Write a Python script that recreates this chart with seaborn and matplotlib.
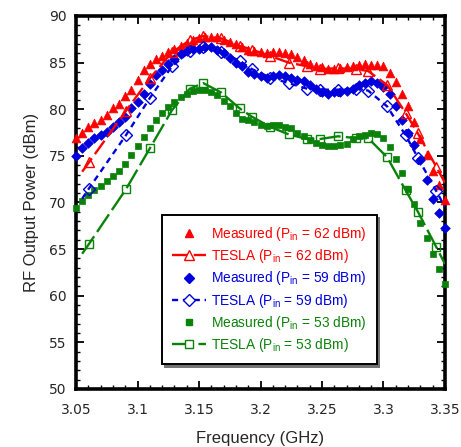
import numpy as np
import pandas as pd
import matplotlib
matplotlib.use("Agg")
import matplotlib.pyplot as plt
import seaborn as sns
from matplotlib.ticker import MultipleLocator, FixedLocator
from matplotlib.lines import Line2D

# ---------------- data ----------------
freq_meas = [round(3.05 + 0.005 * i, 3) for i in range(61)]

meas_62 = [76.9, 77.4, 78.1, 78.5, 78.9, 79.4, 80.1, 80.6, 81.4, 82.1,
           83.1, 84.2, 84.9, 85.4, 85.7, 86.1, 86.5, 86.8, 87.1, 87.4,
           87.6, 87.8, 87.8, 87.7, 87.4, 87.2, 87.0, 86.7, 86.4, 86.3,
           86.1, 86.0, 86.1, 86.1, 86.0, 85.9, 85.6, 85.3, 84.9, 84.6,
           84.5, 84.3, 84.3, 84.4, 84.5, 84.6, 84.7, 84.8, 84.7, 84.7,
           84.6, 83.9, 82.9, 81.6, 80.4, 78.6, 76.8, 75.1, 73.4, 71.9, 70.3]

meas_59 = [75.0, 75.8, 76.4, 76.9, 77.2, 77.6, 78.1, 78.6, 79.2, 80.1,
           80.8, 81.6, 82.7, 83.7, 84.2, 84.9, 85.4, 85.9, 86.2, 86.5,
           86.5, 86.7, 86.7, 86.4, 86.0, 85.5, 85.0, 84.6, 84.0, 83.8,
           83.6, 83.4, 83.6, 83.7, 83.6, 83.3, 83.1, 83.0, 82.6, 82.2,
           81.9, 81.6, 81.8, 81.9, 82.0, 82.2, 82.6, 82.8, 83.0, 82.8,
           82.4, 81.6, 80.3, 78.9, 77.5, 76.2, 74.6, 72.4, 70.4, 68.9, 67.3]

meas_53 = [69.4, 70.2, 70.8, 71.3, 71.8, 72.3, 72.8, 73.4, 74.1, 75.1,
           76.1, 77.0, 78.0, 78.85, 79.6, 80.2, 80.8, 81.3, 81.6, 82.0,
           82.1, 82.1, 81.9, 81.5, 80.9, 80.3, 79.6, 79.0, 78.8, 78.6,
           78.3, 78.2, 78.3, 78.3, 78.1, 78.0, 77.5, 77.1, 76.7, 76.4,
           76.2, 76.1, 76.1, 76.2, 76.3, 76.8, 77.1, 77.2, 77.4, 77.3,
           76.95, 76.0, 74.7, 73.2, 71.5, 69.8, 67.8, 66.2, 64.5, 62.9, 61.3]

# TESLA simulation (first and last entries are line ends without markers)
freq_tesla = [3.055, 3.0605, 3.0905, 3.110, 3.128, 3.1425, 3.1535, 3.168, 3.183,
              3.193, 3.208, 3.223, 3.238, 3.248, 3.263, 3.278, 3.2875, 3.303,
              3.318, 3.328, 3.343, 3.35]
tesla_62 = [73.3, 74.3, 79.8, 83.3, 86.1, 87.4, 87.85, 87.6, 86.8,
            86.4, 85.7, 85.0, 84.6, 84.3, 84.4, 84.3, 84.1, 82.6,
            79.6, 77.4, 73.8, 72.1]
tesla_59 = [70.4, 71.5, 77.2, 81.2, 84.6, 86.2, 86.7, 86.1, 85.2,
            84.3, 83.4, 82.8, 82.2, 82.1, 82.1, 82.2, 82.0, 80.3,
            77.2, 74.8, 71.2, 69.5]
tesla_53 = [64.5, 65.55, 71.4, 75.8, 79.9, 82.2, 82.8, 81.8, 80.1,
            79.2, 78.1, 77.3, 76.8, 76.8, 77.1, 76.9, 76.9, 74.85,
            71.3, 69.0, 65.2, 63.4]

labels_meas = [r"Measured (P$_{\mathregular{in}}$ = 62 dBm)",
               r"Measured (P$_{\mathregular{in}}$ = 59 dBm)",
               r"Measured (P$_{\mathregular{in}}$ = 53 dBm)"]
labels_tesla = [r"TESLA (P$_{\mathregular{in}}$ = 62 dBm)",
                r"TESLA (P$_{\mathregular{in}}$ = 59 dBm)",
                r"TESLA (P$_{\mathregular{in}}$ = 53 dBm)"]

x_ticks = [3.05, 3.1, 3.15, 3.2, 3.25, 3.3, 3.35]
x_tick_labels = ["3.05", "3.1", "3.15", "3.2", "3.25", "3.3", "3.35"]
y_ticks = [50, 55, 60, 65, 70, 75, 80, 85, 90]

# ---------------- style ----------------
sns.set_theme(style="white")
plt.rcParams["font.family"] = ["Liberation Sans", "DejaVu Sans"]
plt.rcParams["mathtext.default"] = "regular"

RED = "#ff0000"
BLUE = "#0000dd"
GREEN = "#0a820a"
colors = [RED, BLUE, GREEN]
meas_markers = ["^", "D", "s"]
meas_sizes = [40, 24, 20]
tesla_markers = ["^", "D", "s"]
tesla_ms = [7.5, 6.0, 6.2]
tesla_ls = [(0, (7, 2.2)), (0, (2.6, 2.0)), (0, (9, 2.2))]

fig = plt.figure(figsize=(4.61, 4.47), dpi=100)
ax = fig.add_axes([76 / 461, 1 - 389 / 447, 369 / 461, 373 / 447])

meas_all = [meas_62, meas_59, meas_53]
tesla_all = [tesla_62, tesla_59, tesla_53]

handles = []
for i in range(3):
    dfm = pd.DataFrame({"f": freq_meas, "p": meas_all[i]})
    sns.scatterplot(data=dfm, x="f", y="p", ax=ax, marker=meas_markers[i],
                    s=meas_sizes[i], color=colors[i], edgecolor=colors[i],
                    linewidth=0.5, zorder=3, clip_on=False)
    dft = pd.DataFrame({"f": freq_tesla, "p": tesla_all[i]})
    sns.lineplot(data=dft, x="f", y="p", ax=ax, color=colors[i],
                 linestyle=tesla_ls[i], linewidth=1.7,
                 marker=tesla_markers[i], markersize=tesla_ms[i],
                 markerfacecolor="none", markeredgecolor=colors[i],
                 markeredgewidth=1.0,
                 markevery=list(range(1, len(freq_tesla) - 1)),
                 sort=False, zorder=4)
    hm = Line2D([], [], linestyle="none", marker=meas_markers[i],
                markersize=np.sqrt(meas_sizes[i]), color=colors[i])
    ht = Line2D([], [], linestyle=tesla_ls[i], linewidth=1.7, color=colors[i],
                marker=tesla_markers[i], markersize=tesla_ms[i],
                markerfacecolor="white", markeredgecolor=colors[i],
                markeredgewidth=1.0)
    handles += [hm, ht]

labels = [labels_meas[0], labels_tesla[0], labels_meas[1], labels_tesla[1],
          labels_meas[2], labels_tesla[2]]
label_colors = [RED, RED, BLUE, BLUE, GREEN, GREEN]

ax.set_xlim(3.05, 3.35)
ax.set_ylim(50, 90)
ax.xaxis.set_major_locator(FixedLocator(x_ticks))
ax.set_xticklabels(x_tick_labels)
ax.xaxis.set_minor_locator(MultipleLocator(0.01))
ax.yaxis.set_major_locator(FixedLocator(y_ticks))
ax.yaxis.set_minor_locator(MultipleLocator(1))

for sp in ax.spines.values():
    sp.set_linewidth(2.6)
    sp.set_color("black")

ax.tick_params(which="both", direction="in", top=True, right=True,
               bottom=True, left=True, color="black")
ax.tick_params(which="major", length=6, width=1.3)
ax.tick_params(which="minor", length=3, width=1.0)
ax.tick_params(axis="x", which="major", pad=10, labelsize=10)
ax.tick_params(axis="y", which="major", pad=7, labelsize=10)
for lab in ax.get_xticklabels() + ax.get_yticklabels():
    lab.set_fontfamily(["DejaVu Sans"])

ax.set_xlabel("Frequency (GHz)", fontsize=12, labelpad=10)
ax.set_ylabel("RF Output Power (dBm)", fontsize=12, labelpad=7)

leg = ax.legend(handles, labels, loc="upper left",
                bbox_to_anchor=(0.233, 0.4665), fontsize=9.9,
                labelcolor=label_colors, frameon=True, fancybox=False,
                shadow={"color": "0.45", "alpha": 1.0}, edgecolor="black",
                framealpha=1.0, handlelength=2.5, handletextpad=0.35,
                labelspacing=0.31, borderpad=0.72, borderaxespad=0.0)
leg.get_frame().set_linewidth(1.4)
leg.set_zorder(10)

fig.savefig("out.png", dpi=100)
